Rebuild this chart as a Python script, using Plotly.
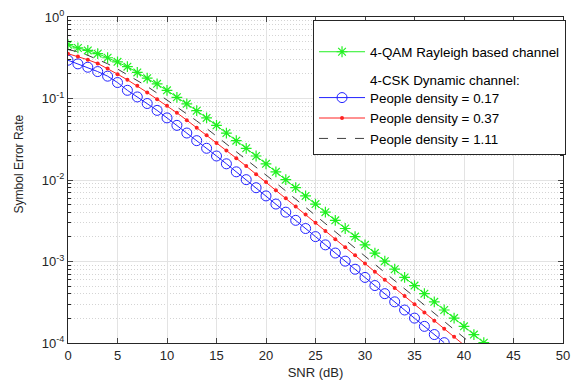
import plotly.graph_objects as go

snr_green = list(range(0, 43))
ser_green = [0.4571, 0.4169, 0.3890, 0.3548, 0.3162, 0.2818, 0.2455, 0.2089, 0.1778, 0.1514,
             0.1259, 0.1035, 0.0861, 0.0708, 0.0578, 0.0468, 0.0377, 0.0304, 0.0245, 0.0197,
             0.0158, 0.0126, 0.0101, 0.00804, 0.00638, 0.00507, 0.00403, 0.00320, 0.00254, 0.00202,
             0.00160, 0.00127, 0.00101, 8.04e-4, 6.38e-4, 5.07e-4, 4.03e-4, 3.20e-4, 2.54e-4, 2.02e-4,
             1.60e-4, 1.27e-4, 1.01e-4]

snr_blue = list(range(0, 39))
ser_blue = [0.295, 0.266, 0.242, 0.214, 0.188, 0.157, 0.126, 0.1045, 0.0868, 0.0715,
            0.0578, 0.0468, 0.0377, 0.0304, 0.0245, 0.0197, 0.0158, 0.0126, 0.0101, 0.00804,
            0.00638, 0.00507, 0.00403, 0.00320, 0.00254, 0.00202, 0.00160, 0.00127, 0.00101, 8.04e-4,
            6.38e-4, 5.07e-4, 4.03e-4, 3.20e-4, 2.54e-4, 2.02e-4, 1.60e-4, 1.27e-4, 1.01e-4]

snr_red = list(range(0, 41))
ser_red = [0.3548, 0.3273, 0.2985, 0.2692, 0.2339, 0.1991, 0.1694, 0.1432, 0.1187, 0.0979,
           0.0812, 0.0667, 0.0542, 0.0439, 0.0353, 0.0285, 0.0230, 0.0185, 0.0148, 0.0118,
           0.00944, 0.00750, 0.00596, 0.00473, 0.00376, 0.00299, 0.00237, 0.00188, 0.00150, 0.00119,
           9.44e-4, 7.50e-4, 5.96e-4, 4.73e-4, 3.76e-4, 2.99e-4, 2.37e-4, 1.88e-4, 1.50e-4, 1.19e-4,
           9.44e-5]

snr_black = list(range(0, 42))
ser_black = [0.3981, 0.3750, 0.3388, 0.3020, 0.2667, 0.2301, 0.1959, 0.1667, 0.1406, 0.1164,
             0.0962, 0.0796, 0.0653, 0.0531, 0.0429, 0.0346, 0.0279, 0.0225, 0.0181, 0.0145,
             0.0115, 0.00923, 0.00733, 0.00582, 0.00462, 0.00367, 0.00292, 0.00232, 0.00184, 0.00146,
             0.00116, 9.23e-4, 7.33e-4, 5.82e-4, 4.62e-4, 3.67e-4, 2.92e-4, 2.32e-4, 1.84e-4, 1.46e-4,
             1.16e-4, 9.23e-5]

x_ticks = [0, 5, 10, 15, 20, 25, 30, 35, 40, 45, 50]
y_tickvals = [1, 0.1, 0.01, 0.001, 0.0001]
y_ticktext = ["10<sup>0</sup>", "10<sup>-1</sup>", "10<sup>-2</sup>", "10<sup>-3</sup>", "10<sup>-4</sup>"]
y_minor_vals = [m * d for d in (1e-4, 1e-3, 1e-2, 1e-1) for m in (2, 3, 4, 5, 6, 7, 8, 9)]

FONT = "Liberation Sans, Arial, sans-serif"

fig = go.Figure()
fig.add_trace(go.Scatter(
    x=snr_green, y=ser_green, mode="lines+markers",
    name="4-QAM Rayleigh based channel", legendgroup="a",
    line=dict(color="#22f022", width=1),
    marker=dict(symbol="asterisk-open", size=9, color="#22f022", line=dict(color="#22f022", width=1.2)),
))
fig.add_trace(go.Scatter(
    x=snr_blue, y=ser_blue, mode="lines+markers",
    name="4-CSK Dynamic channel:<br>People density = 0.17", legendgroup="b",
    line=dict(color="#2222ff", width=1),
    marker=dict(symbol="circle-open", size=10, color="#2222ff", line=dict(color="#2222ff", width=1)),
))
fig.add_trace(go.Scatter(
    x=snr_red, y=ser_red, mode="lines+markers",
    name="People density = 0.37", legendgroup="b",
    line=dict(color="#ff2222", width=1),
    marker=dict(symbol="circle", size=4, color="#ff2222"),
))
fig.add_trace(go.Scatter(
    x=snr_black, y=ser_black, mode="lines",
    name="People density = 1.11", legendgroup="b",
    line=dict(color="#404040", width=1, dash="dash"),
))

fig.update_layout(
    width=578, height=391,
    margin=dict(l=68, r=8, t=9, b=48),
    paper_bgcolor="white", plot_bgcolor="white",
    font=dict(family=FONT, size=12, color="#262626"),
    legend=dict(
        x=0.495, y=0.991, xanchor="left", yanchor="top",
        bgcolor="white", bordercolor="#262626", borderwidth=1,
        font=dict(family=FONT, size=13.4, color="#000000"),
        itemwidth=46, traceorder="grouped", tracegroupgap=8, valign="bottom",
        title=dict(text="\u00a0", font=dict(size=12)),
    ),
    xaxis=dict(
        range=[0, 50], tickvals=x_ticks, ticks="inside", ticklen=5,
        showline=True, linecolor="#262626", linewidth=1, mirror="allticks",
        showgrid=True, gridcolor="#e3e3e3", gridwidth=1, zeroline=False,
        title=dict(text="SNR (dB)", font=dict(size=13), standoff=6),
        tickfont=dict(size=13),
    ),
    yaxis=dict(
        type="log", range=[-4, 0], tickvals=y_tickvals, ticktext=y_ticktext,
        ticks="inside", ticklen=5,
        showline=True, linecolor="#262626", linewidth=1, mirror="allticks",
        showgrid=True, gridcolor="#e3e3e3", gridwidth=1, zeroline=False,
        minor=dict(tickvals=y_minor_vals, ticks="inside", ticklen=3, tickcolor="#262626",
                   showgrid=True, gridcolor="#d4d4d4", griddash="1px,2px", gridwidth=1),
        tickfont=dict(size=13),
    ),
    annotations=[dict(
        text="Symbol Error Rate", textangle=-90, xref="paper", yref="paper",
        x=-0.0996, y=0.55, xanchor="center", yanchor="middle", showarrow=False,
        font=dict(family=FONT, size=12, color="#262626"),
    )],
)

fig.write_html("out.html")
